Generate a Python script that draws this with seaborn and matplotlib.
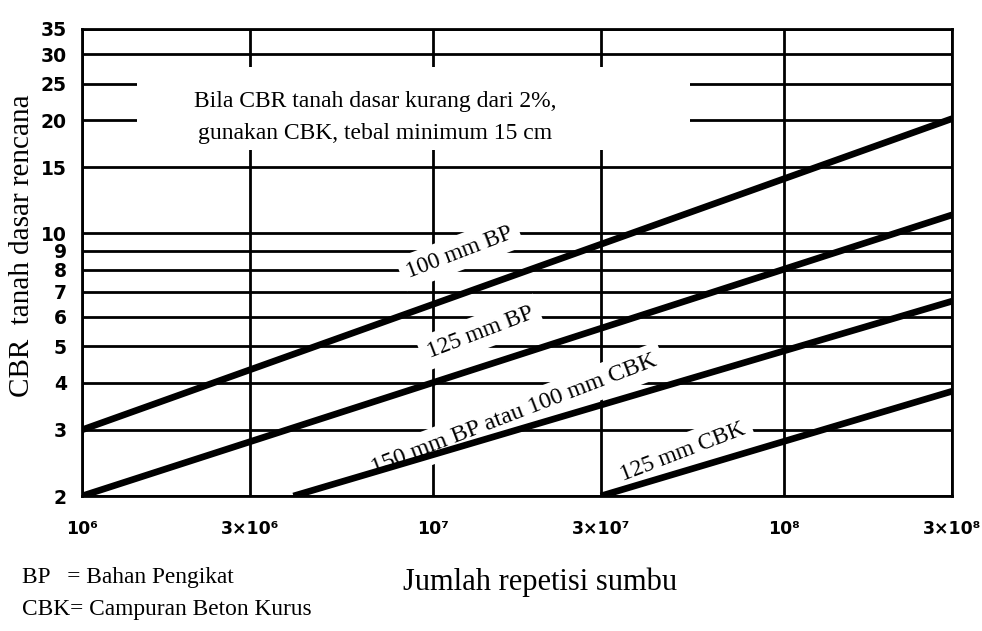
import numpy as np
import pandas as pd
import matplotlib
matplotlib.use("Agg")
import matplotlib.pyplot as plt
from matplotlib.ticker import NullLocator, FixedLocator, FixedFormatter
from matplotlib.patches import Rectangle
import seaborn as sns

# ---- data ----
x_ticks = [1e6, 3e6, 1e7, 3e7, 1e8, 3e8]
x_tick_labels = ["10⁶", "3×10⁶", "10⁷", "3×10⁷", "10⁸", "3×10⁸"]
y_ticks = [2, 3, 4, 5, 6, 7, 8, 9, 10, 15, 20, 25, 30, 35]
y_tick_labels = [str(v) for v in y_ticks]

line_names = ["100 mm BP", "125 mm BP", "150 mm BP atau 100 mm CBK", "125 mm CBK"]
line_x_start = [1e6, 1e6, 4.0e6, 3.0e7]
line_y_start = [3.0, 2.0, 2.0, 2.0]
line_x_end = [3e8, 3e8, 3e8, 3e8]
line_y_end = [20.2, 11.2, 6.6, 3.8]

note_lines = ["Bila CBR tanah dasar kurang dari 2%,", "gunakan CBK, tebal minimum 15 cm"]
legend_notes = ["BP   = Bahan Pengikat", "CBK= Campuran Beton Kurus"]
x_label = "Jumlah repetisi sumbu"
y_label = "CBR  tanah dasar rencana"

rows = []
for name, xs, ys, xe, ye in zip(line_names, line_x_start, line_y_start, line_x_end, line_y_end):
    rows.append({"line": name, "x": xs, "y": ys})
    rows.append({"line": name, "x": xe, "y": ye})
df = pd.DataFrame(rows)

sns.set_style("white")
plt.rcParams["font.family"] = ["DejaVu Sans"]
plt.rcParams["text.color"] = "black"
plt.rcParams["xtick.color"] = "black"
plt.rcParams["ytick.color"] = "black"
plt.rcParams["xtick.labelcolor"] = "black"
plt.rcParams["ytick.labelcolor"] = "black"

W, H = 982, 631
fig = plt.figure(figsize=(W / 100, H / 100), dpi=100)
ax = fig.add_axes([82 / W, 1 - 496 / H, 870 / W, 467 / H])

ax.set_xscale("log")
ax.set_yscale("log")

sns.lineplot(data=df, x="x", y="y", hue="line", hue_order=line_names,
             palette=["black"] * 4, linewidth=4.8, legend=False, ax=ax,
             zorder=3, solid_capstyle="butt")

ax.set_xlim(1e6, 3e8)
ax.set_ylim(2, 35)

ax.xaxis.set_major_locator(FixedLocator(x_ticks))
ax.xaxis.set_major_formatter(FixedFormatter(x_tick_labels))
ax.xaxis.set_minor_locator(NullLocator())
ax.yaxis.set_major_locator(FixedLocator(y_ticks))
ax.yaxis.set_major_formatter(FixedFormatter(y_tick_labels))
ax.yaxis.set_minor_locator(NullLocator())

ax.set_axisbelow(True)
ax.grid(True, which="major", color="black", linewidth=2.0)
ax.tick_params(axis="both", length=0)
ax.tick_params(axis="y", pad=11, labelsize=13.5)
ax.tick_params(axis="x", pad=17, labelsize=12.5)
for lab in ax.get_xticklabels() + ax.get_yticklabels():
    lab.set_fontweight("bold")
ax.set_xlabel("")
ax.set_ylabel("")
for sp in ax.spines.values():
    sp.set_color("black")
    sp.set_linewidth(2.0)

# white block under the top note (gridlines are interrupted there)
ax.add_patch(Rectangle(((137 - 82) / 870, (496 - 150) / 467),
                       (690 - 137) / 870, (150 - 67) / 467,
                       transform=ax.transAxes, facecolor="white",
                       edgecolor="none", zorder=1))

serif = ["Liberation Serif", "DejaVu Serif"]
ax.text((375 - 82) / 870, (496 - 102) / 467, note_lines[0], transform=ax.transAxes,
        ha="center", va="center", fontsize=17, family=serif, zorder=2)
ax.text((375 - 82) / 870, (496 - 133) / 467, note_lines[1], transform=ax.transAxes,
        ha="center", va="center", fontsize=17, family=serif, zorder=2)

# labels on the lines
label_pos = [(1.19e7, 8.9), (1.36e7, 5.45), (1.70e7, 3.29), (5.15e7, 2.62)]
label_size = [17, 17, 17.5, 17]
for name, (lx, ly), fs in zip(line_names, label_pos, label_size):
    ax.text(lx, ly, name, rotation=21, rotation_mode="anchor", ha="center", va="center",
            fontsize=fs, family=serif, zorder=2,
            bbox=dict(facecolor="white", edgecolor="none", pad=5))

fig.text(22 / W, 1 - 246 / H, y_label, rotation=90, ha="center", va="center",
         fontsize=21, family=serif)
fig.text(540 / W, 1 - 582 / H, x_label, ha="center", va="center",
         fontsize=22, family=serif)
fig.text(22 / W, 1 - 577 / H, legend_notes[0], ha="left", va="center",
         fontsize=16.8, family=serif)
fig.text(22 / W, 1 - 610 / H, legend_notes[1], ha="left", va="center",
         fontsize=16.8, family=serif)

fig.savefig("out.png", dpi=100, facecolor="white")
